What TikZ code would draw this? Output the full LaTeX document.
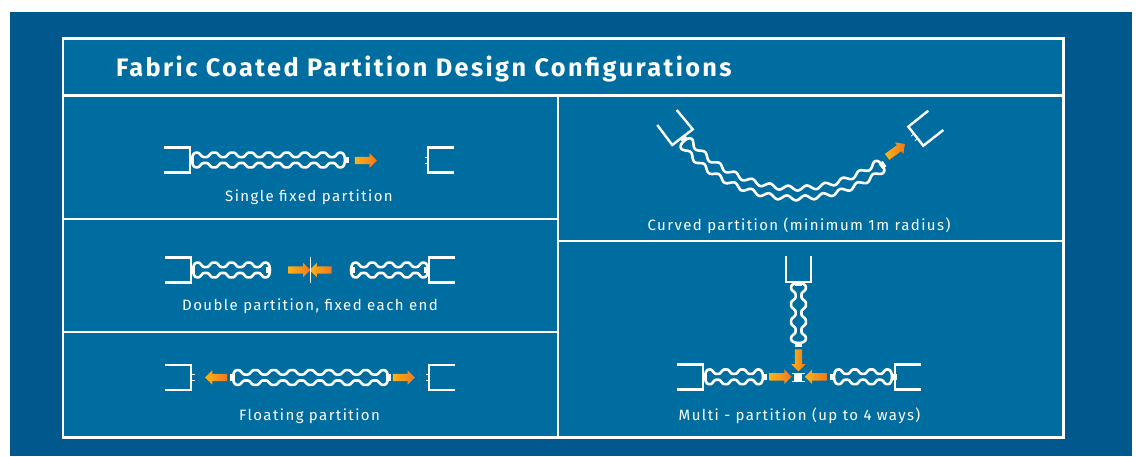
\documentclass[tikz,border=0pt]{standalone}
\usepackage{fontspec}
\setmainfont{Fira Sans}[LetterSpace=9.5]
\usetikzlibrary{shapes.arrows}
\definecolor{backblue}{RGB}{0,88,140}
\definecolor{panelblue}{RGB}{0,109,160}
\definecolor{arrowlight}{RGB}{252,178,24}
\definecolor{arrowdark}{RGB}{240,120,32}
\tikzset{
  declare function={ripple(\t)=1.15*cos(\t)-0.15*cos(3*\t);},
  rule/.style={draw=white,line width=2.6pt},
  wall/.style={draw=white,line width=2.4pt,line join=miter},
  bead/.style={draw=white,line width=2.6pt,line join=round},
  caption/.style={text=white,font=\fontsize{15}{17}\selectfont,anchor=base},
  flow/.style={single arrow,minimum height=22pt,inner xsep=0pt,inner ysep=3.5pt,
    single arrow head extend=3.5pt,single arrow head indent=0pt,
    left color=arrowlight,right color=arrowdark},
  pics/track/.style={code={
    \draw [wall] (-26,-12.5) -- (0,-12.5) -- (0,12.5) -- (-26,12.5);}},
  pics/pins/.style={code={
    \draw [draw=white,line width=0.8pt] (0,-3) -- (3.5,-3) (0,3) -- (3.5,3);}},
  pics/stub/.style={code={
    \fill [white] (0,-3.2) rectangle (5,3.2);}},
  pics/wave/.style n args={2}{code={
    \draw [bead] plot [domain=0:#1,samples=#2*16+1]
        ({\x},{-(5.15+2.2*ripple(\x/#1*360*#2))})
      .. controls (#1+5.3,-7.35) and (#1+5.3,7.35) .. (#1,7.35)
      -- plot [domain=#1:0,samples=#2*16+1]
        ({\x},{5.15+2.2*ripple(\x/#1*360*#2)})
      .. controls (-5.3,7.35) and (-5.3,-7.35) .. cycle;}}
}
\begin{document}
\begin{tikzpicture}[x=1pt,y=-1pt]
  \useasboundingbox (0,0) rectangle (1138,456);
  \fill [white] (0,0) rectangle (1138,456);
  \fill [backblue] (10,12) rectangle (1132,456);
  \fill [panelblue] (62.9,38.5) rectangle (1063.7,437.5);

  % panels
  \draw [rule] (62.9,38.5) rectangle (1063.7,437.5);
  \draw [rule] (62.9,95.3) -- (1063.7,95.3);
  \draw [rule] (558,95.3) -- (558,437.5);
  \draw [rule] (62.9,219) -- (558,219);
  \draw [rule] (62.9,332) -- (558,332);
  \draw [rule] (558,241) -- (1063.7,241);

  \node [text=white,anchor=base west,inner sep=0pt,
    font=\fontsize{25.3}{28}\selectfont\bfseries] (title) at (116,76) {Fabric Coated Partition Design Configurations};

  % single fixed
  \pic at (190,160) {track};
  \pic [xscale=-1] at (194,160) {stub};
  \pic at (196,160) {wave={145}{8}};
  \pic at (344,160) {stub};
  \node [flow] (single) at (364,160.5) {};
  \pic [xscale=-1] at (428,160) {track};
  \pic [xscale=-1] at (428,160) {pins};
  \node [caption] (capsingle) at (309,201) {Single fixed partition};

  % double
  \pic at (191,270) {track};
  \pic [xscale=-1] at (195,270) {stub};
  \pic at (197,270) {wave={69}{4}};
  \pic at (266,270) {stub};
  \node [flow] (doublea) at (297.5,270) {};
  \node [flow,rotate=180] (doubleb) at (322.5,270) {};
  \draw [draw=white,line width=0.8pt] (310.3,257) -- (310.3,283);
  \pic [xscale=-1] at (429,270) {track};
  \pic at (355,270) {wave={69}{4}};
  \pic [xscale=-1] at (355,270) {stub};
  \pic at (424,270) {stub};
  \node [caption] (capdouble) at (310,310) {Double partition, fixed each end};

  % floating
  \pic at (191,377.5) {track};
  \pic at (191,377.5) {pins};
  \node [flow,rotate=180] (floata) at (218,377.5) {};
  \pic at (237,377.5) {wave={147}{8}};
  \pic [xscale=-1] at (235,377.5) {stub};
  \pic at (386,377.5) {stub};
  \node [flow] (floatb) at (402,377.5) {};
  \pic [xscale=-1] at (429,377.5) {track};
  \pic [xscale=-1] at (429,377.5) {pins};
  \node [caption] (capfloat) at (309.5,420) {Floating partition};

  % curved
  \draw [wall] (657.3,125) -- (672.3,145) -- (692.7,129.3) -- (676.7,110);
  \draw [wall] (928.3,110.7) -- (908.3,126.7) -- (923.3,145.7) -- (943.3,130);
  \pic [rotate=-142] at (915.8,136.2) {pins};
  \begin{scope}[shift={(795.9,47.25)}]
    \draw [bead] plot [domain=55.3:138.5,samples=257]
        ({\x}:{145.9-(4.9+2.3*cos((\x-55.3)*47.6))})
      .. controls (140.6:138.7) and (140.6:153.1) .. (138.5:153.1)
      -- plot [domain=138.5:55.3,samples=257]
        ({\x}:{145.9+(4.9+2.3*cos((\x-55.3)*51.92))})
      .. controls (53.2:153.1) and (53.2:138.7) .. cycle;
  \end{scope}
  \pic [rotate=-52] at (682.5,137) {stub};
  \pic [rotate=36] at (880.5,166.5) {stub};
  \node [flow,rotate=36] (curved) at (894.5,151.5) {};
  \node [caption] (capcurved) at (799,230) {Curved partition (minimum 1m radius)};

  % multi
  \pic [rotate=-90] at (798.5,282) {track};
  \pic [rotate=-90] at (798.5,281) {stub};
  \pic [rotate=-90] at (798.5,287) {wave={52}{3}};
  \pic [rotate=-90] at (798.5,341.5) {stub};
  \node [flow,rotate=-90] (multic) at (798.5,358.5) {};
  \pic at (702.7,376.8) {track};
  \pic [xscale=-1] at (707,376.8) {stub};
  \pic at (709,376.8) {wave={50}{3}};
  \pic at (762,376.8) {stub};
  \node [flow] (multia) at (778.8,376.8) {};
  \fill [white] (794,373) rectangle (802,381);
  \draw [draw=white,line width=0.8pt] (792,381.5) -- (805,381.5) (792,373) -- (805,373);
  \node [flow,rotate=180] (multib) at (817.7,376.8) {};
  \pic [xscale=-1] at (835,376.8) {stub};
  \pic at (838,376.8) {wave={50}{3}};
  \pic [xscale=-1] at (895,376.8) {track};
  \pic [xscale=-1] at (897,376.8) {stub};
  \node [caption] (capmulti) at (799.5,420) {Multi - partition (up to 4 ways)};
\end{tikzpicture}
\end{document}
